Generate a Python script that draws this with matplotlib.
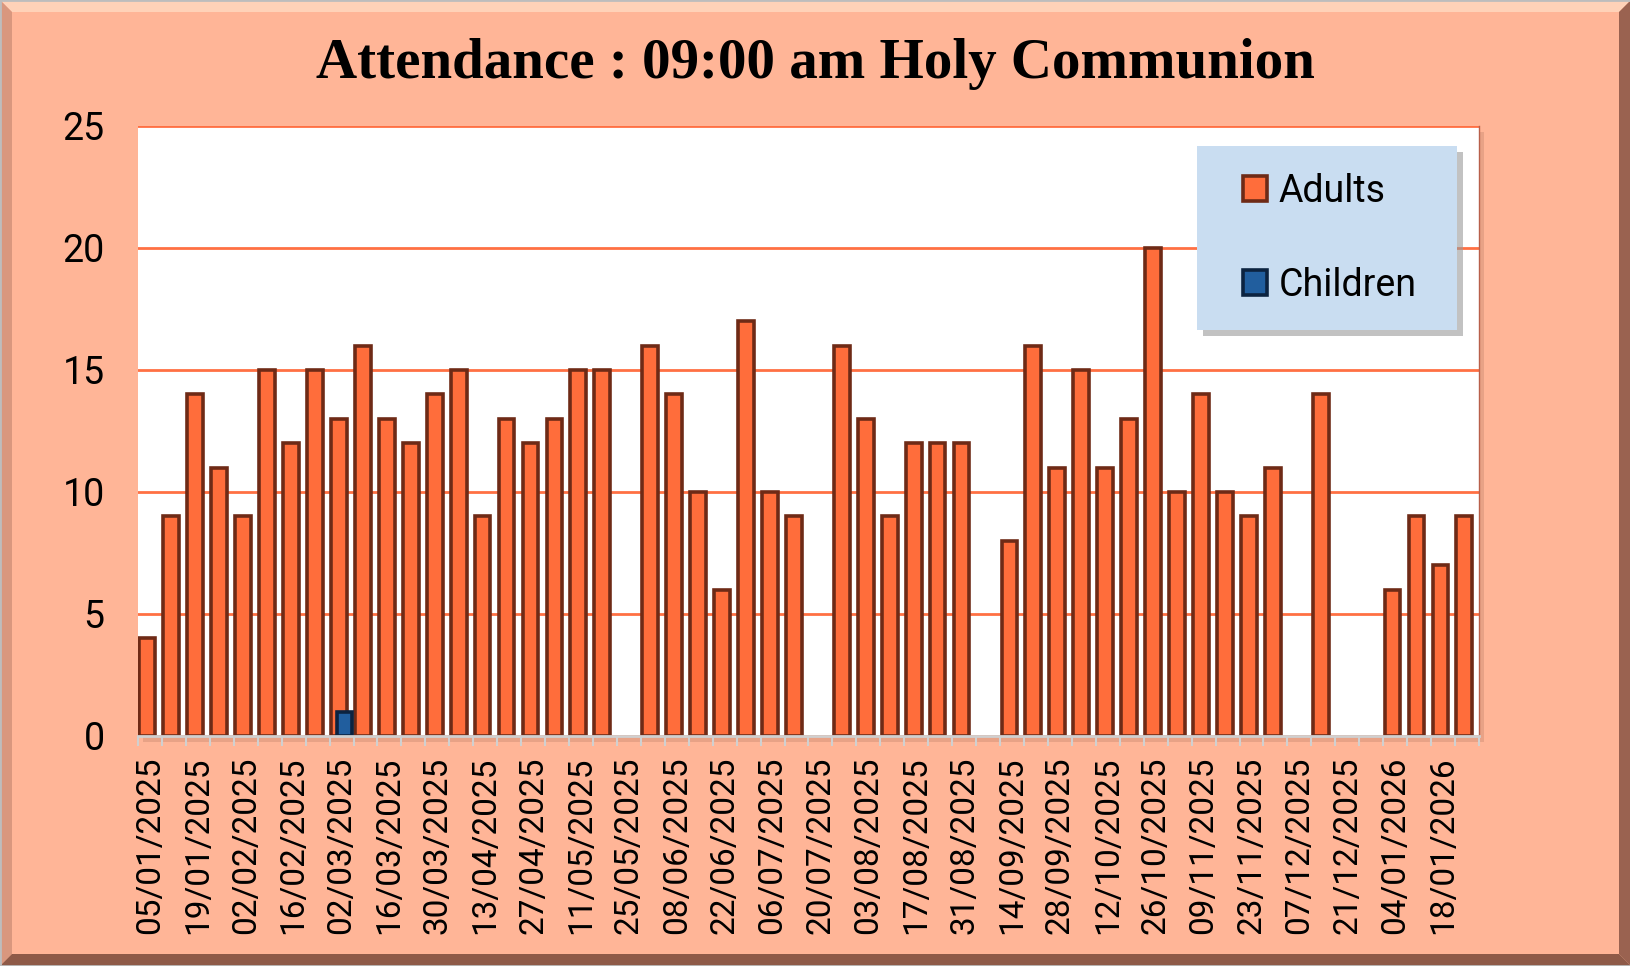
import numpy as np
import pandas as pd
import matplotlib
matplotlib.use("Agg")
import matplotlib.pyplot as plt
from matplotlib.patches import Rectangle, Polygon, Patch

# Sundays, 05/01/2025 .. 25/01/2026
dates = pd.date_range("2025-01-05", periods=56, freq="7D")
date_labels = [d.strftime("%d/%m/%Y") for d in dates]

adults = [4, 9, 14, 11, 9, 15, 12, 15, 13, 16, 13, 12, 14, 15, 9, 13, 12, 13, 15, 15,
          0, 16, 14, 10, 6, 17, 10, 9, 0, 16, 13, 9, 12, 12, 12, 0, 8, 16, 11, 15,
          11, 13, 20, 10, 14, 10, 9, 11, 0, 14, 0, 0, 6, 9, 7, 9]
children = [0] * 56
children[8] = 1

y_ticks = [0, 5, 10, 15, 20, 25]
title = "Attendance : 09:00 am Holy Communion"

W, H = 1631, 966
BG = "#FFB597"
ADULT_FACE, ADULT_EDGE = "#FF6D3B", "#6E2A16"
CHILD_FACE, CHILD_EDGE = "#215E9E", "#0C2340"
GRID = "#FF7043"
TICK_FONT = "Roboto"


def fx(px):
    return px / W


def fy(py):
    return 1 - py / H


fig = plt.figure(figsize=(W / 100, H / 100), dpi=100, facecolor=BG)

# --- bevelled frame ---
b = 12
frame = [
    ([(0, 0), (W, 0), (W - b, b), (b, b)], "#FFD2B8"),        # top
    ([(0, 0), (b, b), (b, H - b), (0, H)], "#D9977E"),        # left
    ([(W, 0), (W, H), (W - b, H - b), (W - b, b)], "#9A6250"),  # right
    ([(0, H), (W, H), (W - b, H - b), (b, H - b)], "#8E5A48"),  # bottom
]
for pts, col in frame:
    fig.patches.append(Polygon([(fx(x), fy(y)) for x, y in pts], closed=True,
                               facecolor=col, edgecolor="none",
                               transform=fig.transFigure, zorder=0))
fig.patches.append(Rectangle((0, 0), 1, 1, fill=False, edgecolor="#BDBDBD",
                             linewidth=2, transform=fig.transFigure, zorder=1))

# --- plot area ---
left, right, top, bottom = 138, 1479, 126, 736
fig.patches.append(Rectangle((fx(left + 5), fy(bottom + 6)), fx(right - left), (bottom - top) / H,
                             facecolor="#E8A286", edgecolor="none",
                             transform=fig.transFigure, zorder=0.5))
ax = fig.add_axes([fx(left), fy(bottom), fx(right - left), (bottom - top) / H])
ax.set_zorder(2)
ax.set_facecolor("white")

x = np.arange(len(dates))
adult_vals = np.array(adults, dtype=float)
child_vals = np.array(children, dtype=float)
a_mask = adult_vals > 0
c_mask = child_vals > 0
ax.bar(x[a_mask] - 0.11, adult_vals[a_mask], width=0.66, color=ADULT_FACE,
       edgecolor=ADULT_EDGE, linewidth=2.6, zorder=3)
ax.bar(x[c_mask] + 0.13, child_vals[c_mask], width=0.6, color=CHILD_FACE,
       edgecolor=CHILD_EDGE, linewidth=2.6, zorder=4)

ax.set_xlim(-0.5, len(dates) - 0.5)
ax.set_ylim(0, 25)
ax.set_yticks(y_ticks)
ax.yaxis.grid(True, color=GRID, linewidth=2, zorder=1)
ax.set_axisbelow(True)

# tick marks at category boundaries, labels every second week
ax.set_xticks(np.arange(len(dates) + 1) - 0.5)
ax.set_xticklabels([])
ax.tick_params(axis="x", which="major", length=7, width=1.5, color="#D0D0D0")
ax.set_xticks(x[::2], minor=True)
ax.set_xticklabels(date_labels[::2], minor=True, rotation=90,
                   fontsize=24, fontfamily=TICK_FONT)
ax.tick_params(axis="x", which="minor", length=0, pad=15)
ax.tick_params(axis="y", length=0, pad=24, labelsize=27)
for lab in ax.get_yticklabels():
    lab.set_fontfamily(TICK_FONT)

for s in ["top", "left"]:
    ax.spines[s].set_visible(False)
ax.spines["bottom"].set_color("#D0D0D0")
ax.spines["bottom"].set_linewidth(2)
ax.spines["bottom"].set_zorder(5)
ax.spines["right"].set_color("#B8604A")
ax.spines["right"].set_linewidth(1)

# --- legend box ---
lx0, lx1, ly0, ly1 = 1197, 1457, 146, 330
fig.patches.append(Rectangle((fx(lx0 + 6), fy(ly1 + 6)), fx(lx1 - lx0), (ly1 - ly0) / H,
                             facecolor="#9A9A9A", alpha=0.6, edgecolor="none",
                             transform=fig.transFigure, zorder=5))
fig.patches.append(Rectangle((fx(lx0), fy(ly1)), fx(lx1 - lx0), (ly1 - ly0) / H,
                             facecolor="#C9DDF1", edgecolor="none",
                             transform=fig.transFigure, zorder=6))
handles = [Patch(facecolor=ADULT_FACE, edgecolor=ADULT_EDGE, linewidth=2.6, label="Adults"),
           Patch(facecolor=CHILD_FACE, edgecolor=CHILD_EDGE, linewidth=2.6, label="Children")]
leg = fig.legend(handles=handles, loc="center left",
                 bbox_to_anchor=(fx(lx0 + 12), fy((ly0 + ly1) / 2)),
                 frameon=False, prop={"family": TICK_FONT, "size": 27},
                 handlelength=0.65, handleheight=0.65, handletextpad=0.3,
                 labelspacing=1.52)
leg.set_zorder(7)

fig.text(0.5, fy(78), title, ha="center", va="baseline",
         fontsize=41, fontweight="bold", fontfamily="Liberation Serif")

fig.savefig("out.png", dpi=100, facecolor=BG)
